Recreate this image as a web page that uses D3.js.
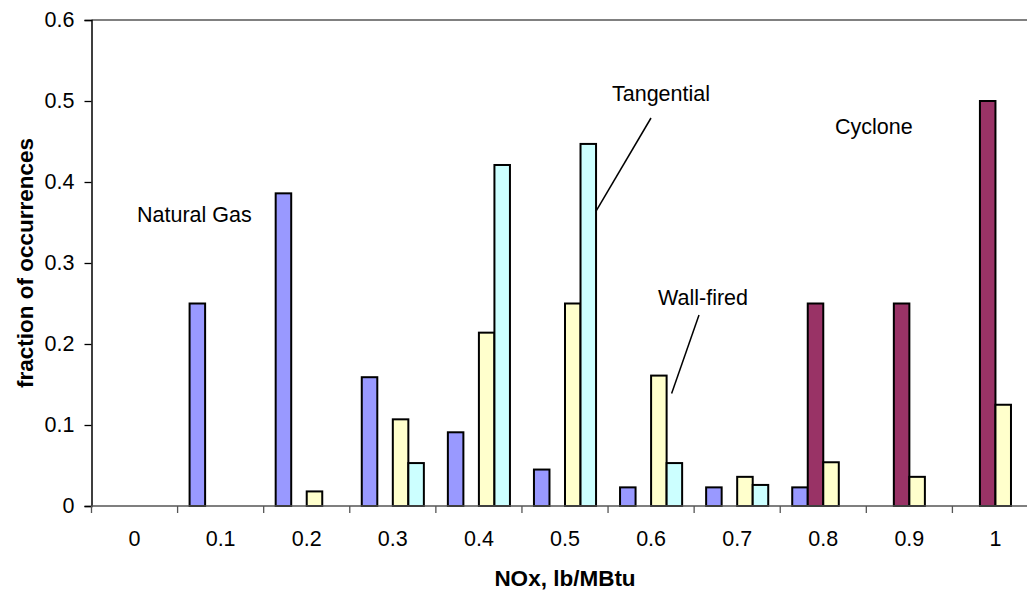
<html>
<head>
  <script src="https://d3js.org/d3.v7.min.js"></script>
  <style>
    body { margin: 0; background: #fff; }
    text { font-family: "Liberation Sans", Arial, sans-serif; fill: #000; }
  </style>
</head>
<body>
<svg width="1027" height="590"></svg>
<script>
  // data
  var categories = ["0", "0.1", "0.2", "0.3", "0.4", "0.5", "0.6", "0.7", "0.8", "0.9", "1"];
  var seriesNames = ["Natural Gas", "Cyclone", "Wall-fired", "Tangential"];
  var naturalGas = [0, 0.25, 0.386, 0.159, 0.091, 0.045, 0.023, 0.023, 0.023, 0, 0];
  var cyclone    = [0, 0, 0, 0, 0, 0, 0, 0, 0.25, 0.25, 0.5];
  var wallFired  = [0, 0, 0.018, 0.107, 0.214, 0.25, 0.161, 0.036, 0.054, 0.036, 0.125];
  var tangential = [0, 0, 0, 0.053, 0.421, 0.447, 0.053, 0.026, 0, 0, 0];
  var yTicks = [0, 0.1, 0.2, 0.3, 0.4, 0.5, 0.6];
  var colors = ["#9999ff", "#993366", "#ffffcc", "#ccffff"];

  var values = [naturalGas, cyclone, wallFired, tangential];

  var svg = d3.select("svg");
  // note: "top" is reserved on window, so use plot* names
  var plotLeft = 91.5, plotRight = 1038.5, plotTop = 20, plotBottom = 506;

  var x = d3.scaleBand().domain(categories).range([plotLeft, plotRight]);
  var bw = x.bandwidth();
  var xs = d3.scaleBand().domain(seriesNames).range([12, bw - 12]);
  var y = d3.scaleLinear().domain([0, 0.6]).range([plotBottom, plotTop]);

  // top border of plot area
  svg.append("line")
    .attr("x1", plotLeft).attr("x2", plotRight)
    .attr("y1", plotTop).attr("y2", plotTop)
    .attr("stroke", "#808080").attr("stroke-width", 2);

  // bars
  var rows = [];
  seriesNames.forEach(function(s, i) {
    categories.forEach(function(c, j) {
      if (values[i][j] > 0) rows.push({ s: s, c: c, v: values[i][j], col: colors[i] });
    });
  });
  svg.append("g").selectAll("rect")
    .data(rows)
    .enter().append("rect")
      .attr("x", function(d) { return x(d.c) + xs(d.s); })
      .attr("y", function(d) { return y(d.v); })
      .attr("width", xs.bandwidth())
      .attr("height", function(d) { return plotBottom - y(d.v); })
      .attr("fill", function(d) { return d.col; })
      .attr("stroke", "#000")
      .attr("stroke-width", 2);

  // y axis
  var yAxis = svg.append("g")
    .attr("transform", "translate(" + plotLeft + ",0)")
    .call(d3.axisLeft(y).tickValues(yTicks).tickSize(7).tickPadding(10)
      .tickFormat(function(d) { return String(+d.toFixed(1)); }));
  yAxis.select(".domain").attr("stroke", "#000").attr("stroke-width", 1.5);
  yAxis.selectAll(".tick line").attr("stroke", "#000").attr("stroke-width", 1.3);
  yAxis.selectAll("text").style("font-size", "21.5px").style("font-family", "Liberation Sans, Arial, sans-serif").attr("fill", "#000");

  // x axis line and boundary ticks
  svg.append("line")
    .attr("x1", plotLeft).attr("x2", plotRight)
    .attr("y1", plotBottom).attr("y2", plotBottom)
    .attr("stroke", "#555").attr("stroke-width", 1.5);
  var bounds = categories.map(function(c) { return x(c); }).concat([plotRight]);
  svg.append("g").selectAll("line")
    .data(bounds)
    .enter().append("line")
      .attr("x1", function(d) { return d; }).attr("x2", function(d) { return d; })
      .attr("y1", plotBottom).attr("y2", plotBottom + 7)
      .attr("stroke", "#555").attr("stroke-width", 1.3);
  svg.append("g").selectAll("text")
    .data(categories)
    .enter().append("text")
      .attr("x", function(d) { return x(d) + bw / 2; })
      .attr("y", 546)
      .attr("text-anchor", "middle")
      .style("font-size", "21.5px")
      .text(function(d) { return d; });

  // axis titles
  svg.append("text")
    .attr("x", (plotLeft + plotRight) / 2).attr("y", 586)
    .attr("text-anchor", "middle")
    .style("font-size", "22.5px").style("font-weight", "bold")
    .text("NOx, lb/MBtu");
  svg.append("text")
    .attr("transform", "translate(32.5," + (plotTop + plotBottom) / 2 + ") rotate(-90)")
    .attr("text-anchor", "middle")
    .style("font-size", "22.5px").style("font-weight", "bold")
    .text("fraction of occurrences");

  // series labels
  var labels = [
    { t: "Natural Gas", x: 137, y: 222 },
    { t: "Tangential", x: 612, y: 101 },
    { t: "Wall-fired", x: 658, y: 305 },
    { t: "Cyclone", x: 835, y: 134 }
  ];
  svg.append("g").selectAll("text")
    .data(labels)
    .enter().append("text")
      .attr("x", function(d) { return d.x; })
      .attr("y", function(d) { return d.y; })
      .style("font-size", "21.5px")
      .text(function(d) { return d.t; });

  // leader lines
  var leaders = [
    { x1: 651, y1: 118, x2: x("0.5") + xs("Tangential") + xs.bandwidth(), y2: y(0.364) },
    { x1: 699, y1: 315, x2: x("0.6") + xs("Wall-fired") + xs.bandwidth() + 5, y2: y(0.139) }
  ];
  svg.append("g").selectAll("line")
    .data(leaders)
    .enter().append("line")
      .attr("x1", function(d) { return d.x1; }).attr("y1", function(d) { return d.y1; })
      .attr("x2", function(d) { return d.x2; }).attr("y2", function(d) { return d.y2; })
      .attr("stroke", "#000").attr("stroke-width", 1.5);
</script>
</body>
</html>
